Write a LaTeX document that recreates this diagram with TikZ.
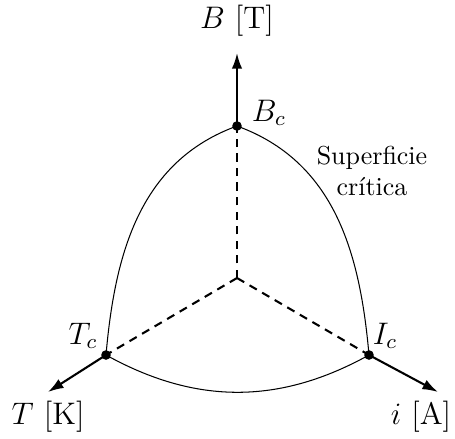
\documentclass[tikz,border=0pt]{standalone}
\usetikzlibrary{arrows.meta}
\begin{document}
\begin{tikzpicture}[x=0.385pt,y=-0.385pt,
  axis/.style={thick,-{Latex[length=6pt,width=4pt]}},
  crit/.style={thick,dash pattern=on 3.2pt off 2.4pt},
  surf/.style={thin},
  pt/.style={circle,fill,inner sep=0pt,minimum size=3.7pt},
  lbl/.style={inner sep=0pt,font=\fontsize{12}{14}\selectfont},
  txt/.style={inner sep=0pt,align=center}]
\useasboundingbox (0,0) rectangle (455,438);
\coordinate (O) at (237,278);
\node[pt] (Bc) at (237,126) {};
\node[pt] (Tc) at (106,355) {};
\node[pt] (Ic) at (369,355) {};
\coordinate (Bt) at (237,53);
\coordinate (Tt) at (48,392);
\coordinate (It) at (438,392);
\draw[crit] (O) -- (Bc.center);
\draw[crit] (O) -- (Tc.center);
\draw[crit] (O) -- (Ic.center);
\draw[axis] (Bc.center) -- (Bt);
\draw[axis] (Tc.center) -- (Tt);
\draw[axis] (Ic.center) -- (It);
\draw[surf] (Bc.center) to[out=200,in=85] (Tc.center);
\draw[surf] (Bc.center) to[out=-20,in=95] (Ic.center);
\draw[surf] (Tc.center) to[out=-29,in=209] (Ic.center);
\node[lbl] (lB) at (237,21) {$B$ [T]};
\node[lbl] (lT) at (48,417) {$T$ [K]};
\node[lbl] (lI) at (421,417) {$i$ [A]};
\node[lbl] (lBc) at (269,113) {$B_c$};
\node[lbl] (lTc) at (83,336) {$T_c$};
\node[lbl] (lIc) at (385,336) {$I_c$};
\node[txt] (ls) at (372,171) {Superficie\\crítica};
\end{tikzpicture}
\end{document}
